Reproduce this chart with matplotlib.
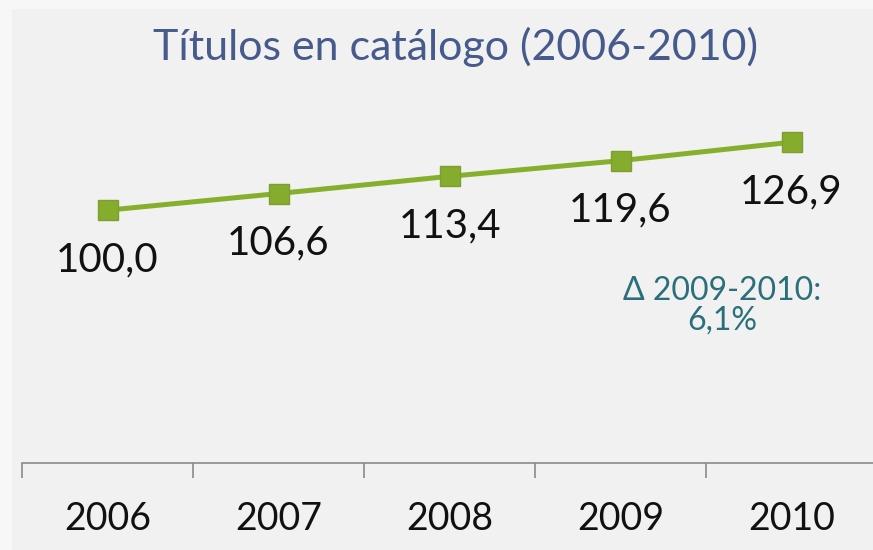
import matplotlib
matplotlib.use("Agg")
import matplotlib.pyplot as plt
from matplotlib.patches import Rectangle

# Data
years = ["2006", "2007", "2008", "2009", "2010"]
index_values = [100.0, 106.6, 113.4, 119.6, 126.9]
value_labels = ["100,0", "106,6", "113,4", "119,6", "126,9"]
title_text = "Títulos en catálogo (2006-2010)"
note_text = "\u0394 2009-2010:\n6,1%"

FONT = ["Lato", "DejaVu Sans"]
plt.rcParams["font.family"] = FONT

W, H = 873, 550
fig = plt.figure(figsize=(W / 100, H / 100), dpi=100, facecolor="#f7f7f8")

# light grey panel behind the chart
fig.patches.append(Rectangle((12 / W, 0), 1, 1 - 9 / H, transform=fig.transFigure,
                             facecolor="#f1f1f1", edgecolor="none", zorder=-5))

# axes: x from 22px to 877px, y=0 at 463px, 2.528 px per unit
left, right = 22 / W, 877 / W
bottom = 1 - 463 / H
top = 1 - (463 - 140 * 2.528) / H
ax = fig.add_axes([left, bottom, right - left, top - bottom], zorder=2)
ax.set_facecolor("none")

x = list(range(1, len(years) + 1))
ax.plot(x, index_values, color="#86b02c", lw=3.6, marker="s", markersize=15,
        markerfacecolor="#86ac2e", markeredgecolor="#7d9f30", markeredgewidth=1.0,
        zorder=3, clip_on=False)

for xi, v, lab in zip(x, index_values, value_labels):
    ax.annotate(lab, (xi, v), xytext=(0, -44), textcoords="offset points",
                ha="center", va="baseline", fontsize=29, color="#111111")

ax.set_xlim(0.5, 5.5)
ax.set_ylim(0, 140)

for s in ["top", "right", "left"]:
    ax.spines[s].set_visible(False)
ax.spines["bottom"].set_color("#8a8a8a")
ax.spines["bottom"].set_linewidth(1.2)
ax.set_yticks([])

ax.set_xticks([i + 0.5 for i in range(0, len(years) + 1)])
ax.set_xticklabels([])
ax.tick_params(axis="x", which="major", length=10.5, width=1.2, color="#8a8a8a",
               direction="out")
ax.set_xticks(x, minor=True)
ax.set_xticklabels(years, minor=True, fontsize=27, color="#111111")
ax.tick_params(axis="x", which="minor", length=0, pad=27)

fig.text(455 / W, 1 - 60 / H, title_text, ha="center", va="baseline",
         fontsize=31, color="#465a8c")

fig.text(722 / W, 1 - 306 / H, note_text, ha="center", va="center",
         multialignment="center", fontsize=23, color="#2b6f7d", linespacing=1.0)

fig.savefig("out.png", dpi=100, facecolor=fig.get_facecolor())
